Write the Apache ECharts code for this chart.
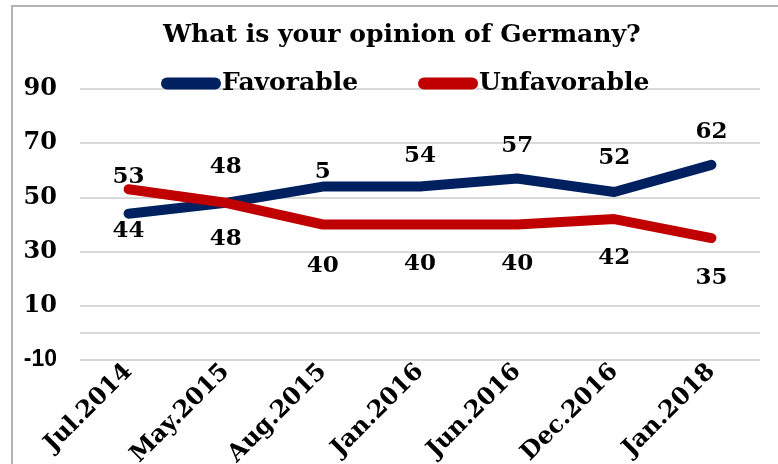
<!DOCTYPE html>
<html>
<head>
<meta charset="utf-8">
<style>
  html, body { margin: 0; padding: 0; background: #ffffff; }
  #chart { width: 778px; height: 464px; }
</style>
<script src="https://cdn.jsdelivr.net/npm/echarts@6/dist/echarts.min.js"></script>
</head>
<body>
<div id="chart"></div>
<script>
// Survey waves
var categories = ['Jul.2014', 'May.2015', 'Aug.2015', 'Jan.2016', 'Jun.2016', 'Dec.2016', 'Jan.2018'];
// Share of respondents (%)
var favorable   = [44, 48, 54, 54, 57, 52, 62];
var unfavorable = [53, 48, 40, 40, 40, 42, 35];
// Point label texts as printed on the chart
var favorableText   = ['44', '48', '5', '54', '57', '52', '62'];
var unfavorableText = ['53', '48', '40', '40', '40', '42', '35'];
// Value axis ticks
var yTicks = [-10, 10, 30, 50, 70, 90];

var SERIF = '"DejaVu Serif", Georgia, serif';
var NAVY = '#002060';
var RED = '#C00000';

// label placement per point: [position, distance]
var favPlace = [['bottom', 5], ['top', 23], ['top', 2], ['top', 18], ['top', 20], ['top', 21], ['top', 20]];
var unfPlace = [['top', 0], ['bottom', 24], ['bottom', 29], ['bottom', 27], ['bottom', 27], ['bottom', 26], ['bottom', 27]];

function buildPoints(values, texts, place) {
  return values.map(function (v, i) {
    return {
      value: v,
      label: {
        position: place[i][0],
        distance: place[i][1],
        formatter: texts[i]
      }
    };
  });
}

var labelStyle = {
  show: true,
  color: '#000000',
  fontFamily: SERIF,
  fontWeight: 'bold',
  fontSize: 23
};

var chart = echarts.init(document.getElementById('chart'), null, { renderer: 'canvas' });

chart.setOption({
  animation: false,
  backgroundColor: '#ffffff',
  title: {
    text: 'What is your opinion of Germany?',
    left: 158,
    top: 18,
    textStyle: {
      fontFamily: SERIF,
      fontWeight: 'bold',
      fontSize: 25,
      color: '#000000'
    }
  },
  legend: {
    top: 66,
    left: 156,
    itemGap: 60,
    itemWidth: 60,
    itemHeight: 12,
    icon: 'path://M6,0 H54 A6,6 0 0 1 54,12 H6 A6,6 0 0 1 6,0 Z',
    textStyle: {
      fontFamily: SERIF,
      fontWeight: 'bold',
      fontSize: 25,
      color: '#000000',
      padding: [0, 0, 0, -4]
    },
    data: ['Favorable', 'Unfavorable']
  },
  grid: {
    left: 80,
    right: 18,
    top: 89,
    bottom: 104,
    containLabel: false,
    outerBoundsMode: 'none'
  },
  xAxis: {
    type: 'category',
    data: categories,
    boundaryGap: true,
    axisLine: { show: false, onZero: false },
    axisTick: { show: false },
    axisLabel: {
      rotate: 45,
      interval: 0,
      margin: 8,
      color: '#000000',
      fontFamily: SERIF,
      fontWeight: 'bold',
      fontSize: 24
    },
    splitLine: { show: false }
  },
  yAxis: {
    type: 'value',
    min: yTicks[0],
    max: yTicks[yTicks.length - 1],
    interval: yTicks[1] - yTicks[0],
    axisLine: { show: false },
    axisTick: { show: false },
    axisLabel: {
      margin: 23,
      color: '#000000',
      fontFamily: SERIF,
      fontWeight: 'bold',
      fontSize: 24,
      formatter: function (v) {
        return v < 0 ? '{neg|' + v + '}' : String(v);
      },
      rich: {
        neg: {
          fontFamily: '"Liberation Sans", Arial, sans-serif',
          fontWeight: 'bold',
          fontSize: 23,
          color: '#000000'
        }
      }
    },
    splitLine: { show: true, lineStyle: { color: '#d9d9d9', width: 2 } }
  },
  series: [
    {
      name: 'Favorable',
      type: 'line',
      data: buildPoints(favorable, favorableText, favPlace),
      symbol: 'circle',
      symbolSize: 2,
      showSymbol: true,
      color: NAVY,
      itemStyle: { color: NAVY },
      lineStyle: { color: NAVY, width: 10, cap: 'round', join: 'round' },
      label: labelStyle,
      emphasis: { disabled: true },
      z: 3,
      markLine: {
        silent: true,
        symbol: 'none',
        label: { show: false },
        lineStyle: { color: '#d9d9d9', width: 2, type: 'solid' },
        data: [{ yAxis: 0 }]
      }
    },
    {
      name: 'Unfavorable',
      type: 'line',
      data: buildPoints(unfavorable, unfavorableText, unfPlace),
      symbol: 'circle',
      symbolSize: 2,
      showSymbol: true,
      color: RED,
      itemStyle: { color: RED },
      lineStyle: { color: RED, width: 10, cap: 'round', join: 'round' },
      label: labelStyle,
      emphasis: { disabled: true },
      z: 4
    }
  ],
  graphic: [
    {
      type: 'polyline',
      silent: true,
      shape: { points: [[12, 470], [12, 6], [790, 6]] },
      style: { stroke: '#b4b4b4', lineWidth: 2, fill: null }
    }
  ]
});
</script>
</body>
</html>
